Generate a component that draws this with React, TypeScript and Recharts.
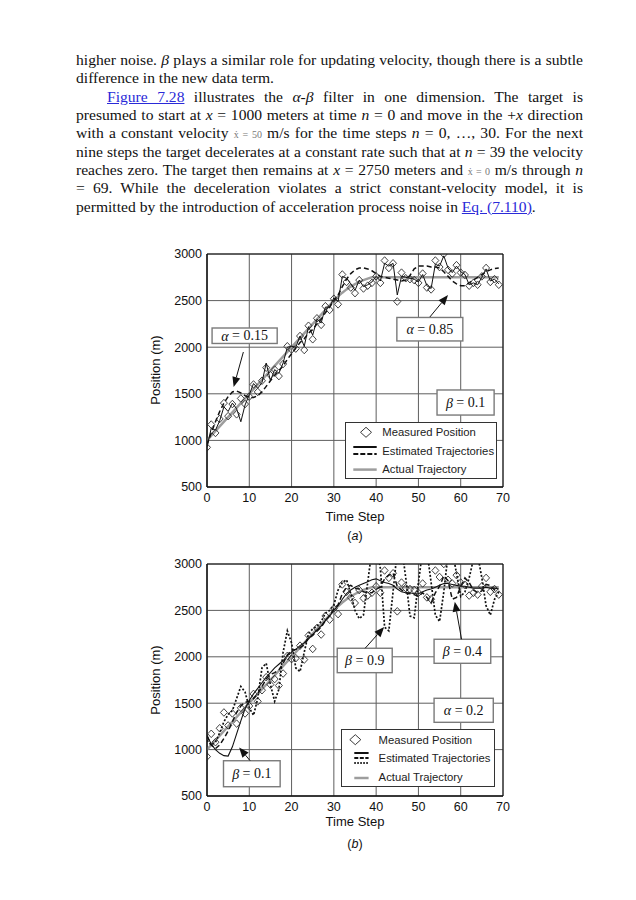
import React from 'react';
import {
  ComposedChart,
  Line,
  Scatter,
  XAxis,
  YAxis,
  CartesianGrid,
  ReferenceArea,
  ReferenceLine,
} from 'recharts';

// measured position, same noisy measurements in both panels (n = 0..69)
const measured = [
  925, 1170, 1080, 1230, 1400, 1260, 1390, 1280, 1450, 1390,
  1470, 1600, 1520, 1640, 1780, 1700, 1760, 1690, 1820, 2010,
  1975, 1985, 2120, 1970, 2230, 2085, 2310, 2240, 2440, 2400,
  2520, 2460, 2780, 2700, 2640, 2580, 2720, 2630, 2660, 2690,
  2760, 2690, 2930, 2850, 2900, 2490, 2800, 2740, 2730, 2720,
  2690, 2790, 2640, 2620, 2930, 2860, 3000, 2830, 2790, 2880,
  2800, 2775, 2660, 2690, 2670, 2760, 2850, 2700, 2730, 2670,
];

// panel (a): beta = 0.1
const alphaLow = [
  950, 1080, 1200, 1310, 1400, 1470, 1520, 1530, 1510, 1480,
  1460, 1460, 1480, 1520, 1580, 1640, 1700, 1750, 1800, 1870,
  1930, 1990, 2050, 2090, 2150, 2190, 2250, 2300, 2370, 2430,
  2500, 2560, 2650, 2730, 2790, 2830, 2850, 2850, 2840, 2820,
  2790, 2760, 2750, 2740, 2730, 2720, 2710, 2720, 2770, 2840,
  2870, 2870, 2870, 2860, 2860, 2850, 2810, 2760, 2710, 2680,
  2660, 2660, 2690, 2720, 2750, 2780, 2810, 2830, 2845, 2850,
];
const alphaHigh = [
  930, 1130, 1110, 1210, 1360, 1310, 1400, 1340, 1200, 1380,
  1490, 1610, 1560, 1620, 1830, 1640, 1760, 1720, 1830, 2000,
  2010, 2000, 2120, 2010, 2220, 2130, 2300, 2260, 2430, 2430,
  2530, 2490, 2760, 2740, 2680, 2610, 2720, 2650, 2670, 2700,
  2760, 2710, 2900, 2870, 2900, 2560, 2760, 2750, 2740, 2730,
  2700, 2780, 2660, 2630, 2890, 2870, 2980, 2850, 2800, 2870,
  2810, 2780, 2670, 2690, 2670, 2750, 2840, 2710, 2730, 2680,
];

// panel (b): alpha = 0.2
const betaLow = [
  1150, 1060, 1000, 960, 935, 930, 1030, 1170, 1310, 1440,
  1530, 1600, 1660, 1720, 1780, 1830, 1880, 1920, 1960, 2010,
  2050, 2080, 2120, 2150, 2200, 2240, 2290, 2330, 2390, 2440,
  2500, 2550, 2620, 2680, 2720, 2750, 2770, 2790, 2810, 2830,
  2840, 2820, 2800, 2790, 2770, 2730, 2700, 2690, 2690, 2680,
  2680, 2700, 2720, 2730, 2750, 2770, 2790, 2790, 2780, 2770,
  2760, 2760, 2750, 2740, 2740, 2740, 2750, 2740, 2740, 2730,
];
const betaMid = [
  1150, 1050, 1010, 1050, 1120, 1200, 1300, 1400, 1470, 1510,
  1520, 1550, 1600, 1680, 1760, 1810, 1830, 1860, 1930, 2020,
  2070, 2080, 2100, 2130, 2200, 2230, 2280, 2320, 2390, 2440,
  2520, 2560, 2680, 2750, 2770, 2740, 2730, 2700, 2690, 2690,
  2730, 2750, 2840, 2880, 2900, 2760, 2720, 2690, 2680, 2670,
  2650, 2690, 2640, 2580, 2690, 2760, 2870, 2820, 2620, 2640,
  2760, 2850, 2800, 2720, 2690, 2710, 2780, 2770, 2720, 2690,
];
const betaHigh = [
  1100, 1050, 1080, 1180, 1300, 1380, 1420, 1550, 1680, 1620,
  1450, 1370, 1550, 1880, 1930, 1700, 1520, 1650, 2050, 2280,
  2150, 1880, 1840, 2050, 2250, 2300, 2330, 2380, 2470, 2500,
  2560, 2720, 2800, 2830, 2680, 2500, 2410, 2450, 2800, 3150,
  3250, 2950, 2320, 2280, 2700, 3150, 3200, 2850, 2440, 2420,
  2800, 3150, 3150, 2800, 2450, 2380, 2700, 3100, 3150, 2900,
  2650, 2700, 2850, 3050, 3100, 2850, 2550, 2450, 2620, 2700,
];

const actualSteps = [0, 30, 31, 32, 33, 34, 35, 36, 37, 38, 39, 69];
const actualPos = [1000, 2500, 2545, 2585, 2620, 2650, 2677, 2700, 2720, 2736, 2750, 2750];

const xTicks = [0, 10, 20, 30, 40, 50, 60, 70];
const yTicks = [500, 1000, 1500, 2000, 2500, 3000];

const rowsA = measured.map((m, n) => ({ n, meas: m, low: alphaLow[n], high: alphaHigh[n] }));
const rowsB = measured.map((m, n) => ({ n, meas: m, b1: betaLow[n], b4: betaMid[n], b9: betaHigh[n] }));
const actualRows = actualSteps.map((n, i) => ({ n, pos: actualPos[i] }));

const notesA = [
  { greek: 'α', value: '0.15', x1: 1.2, x2: 16.6, y1: 2040, y2: 2206 },
  { greek: 'α', value: '0.85', x1: 44.9, x2: 60.5, y1: 2067, y2: 2319 },
  { greek: 'β', value: '0.1', x1: 54.4, x2: 67.9, y1: 1272, y2: 1541 },
];
const arrowsA = [
  { from: [8.6, 1948], to: [6.3, 1573] },
  { from: [52.7, 2324], to: [57.0, 2560] },
];
const notesB = [
  { greek: 'β', value: '0.9', x1: 30.8, x2: 43.8, y1: 1829, y2: 2092 },
  { greek: 'β', value: '0.4', x1: 53.7, x2: 67.1, y1: 1930, y2: 2189 },
  { greek: 'α', value: '0.2', x1: 53.7, x2: 67.7, y1: 1294, y2: 1553 },
  { greek: 'β', value: '0.1', x1: 3.9, x2: 17.3, y1: 600, y2: 880 },
];
const arrowsB = [
  { from: [37.4, 2092], to: [41.9, 2321] },
  { from: [60.2, 2189], to: [58.6, 2594] },
  { from: [10.2, 880], to: [7.6, 1023] },
];

const sans = '"Liberation Sans", Arial, sans-serif';
const serif = '"Liberation Serif", "Times New Roman", serif';
const tickStyle = { fill: '#111', fontSize: 12.5, fontFamily: sans };

const Diamond = (p: any) => (
  <path
    d={`M${p.cx},${p.cy - 3.8} L${p.cx + 3.5},${p.cy} L${p.cx},${p.cy + 3.8} L${p.cx - 3.5},${p.cy} Z`}
    fill="none"
    stroke="#222"
    strokeWidth={0.85}
  />
);

const noteShape = (greek: string, value: string) => (p: any) => (
  <g>
    <rect x={p.x} y={p.y} width={p.width} height={p.height} fill="#fff" stroke="#7a7a7a" strokeWidth={1.4} />
    <text
      x={p.x + p.width / 2}
      y={p.y + p.height / 2}
      textAnchor="middle"
      dominantBaseline="central"
      fontFamily={serif}
      fontSize={14}
      fill="#111"
    >
      <tspan fontStyle="italic">{greek}</tspan>
      {' = ' + value}
    </text>
  </g>
);

const arrowShape = (p: any) => {
  const { x1, y1, x2, y2 } = p;
  const ang = Math.atan2(y2 - y1, x2 - x1);
  const len = 10;
  const half = 4;
  const bx = x2 - len * Math.cos(ang);
  const by = y2 - len * Math.sin(ang);
  const px = -Math.sin(ang) * half;
  const py = Math.cos(ang) * half;
  return (
    <g>
      <line x1={x1} y1={y1} x2={bx} y2={by} stroke="#111" strokeWidth={1} />
      <polygon points={`${x2},${y2} ${bx + px},${by + py} ${bx - px},${by - py}`} fill="#111" />
    </g>
  );
};

type Trace = { key: string; width: number; dash?: string };

function TrajectoryChart({ rows, traces, notes, arrows, bottom }: any) {
  return (
    <ComposedChart width={370} height={300} data={rows} margin={{ top: 14, right: 17, bottom, left: 12 }}>
      <CartesianGrid stroke="#5e5e5e" strokeWidth={1} />
      <XAxis
        type="number"
        dataKey="n"
        domain={[0, 70]}
        ticks={xTicks}
        interval={0}
        allowDataOverflow
        height={30}
        tickLine={false}
        tickSize={0}
        tickMargin={6}
        axisLine={{ stroke: '#111' }}
        tick={tickStyle}
      />
      <YAxis
        type="number"
        domain={[500, 3000]}
        ticks={yTicks}
        interval={0}
        allowDataOverflow
        width={45}
        tickLine={false}
        tickSize={0}
        tickMargin={5}
        axisLine={{ stroke: '#111' }}
        tick={tickStyle}
      />
      <Line
        data={actualRows}
        dataKey="pos"
        stroke="#9d9d9d"
        strokeWidth={2.4}
        dot={false}
        activeDot={false}
        isAnimationActive={false}
      />
      {traces.map((t: Trace) => (
        <Line
          key={t.key}
          dataKey={t.key}
          stroke="#111"
          strokeWidth={t.width}
          strokeDasharray={t.dash}
          dot={false}
          activeDot={false}
          isAnimationActive={false}
        />
      ))}
      <Scatter dataKey="meas" shape={Diamond} isAnimationActive={false} />
      <ReferenceArea x1={0} x2={70} y1={500} y2={3000} fill="none" stroke="#111" strokeWidth={1} />
      {notes.map((nt: any, i: number) => (
        <ReferenceArea key={'n' + i} x1={nt.x1} x2={nt.x2} y1={nt.y1} y2={nt.y2} shape={noteShape(nt.greek, nt.value)} />
      ))}
      {arrows.map((a: any, i: number) => (
        <ReferenceLine
          key={'a' + i}
          segment={[
            { x: a.from[0], y: a.from[1] },
            { x: a.to[0], y: a.to[1] },
          ]}
          shape={arrowShape}
        />
      ))}
    </ComposedChart>
  );
}

function LegendBox({ left, top, width, height, diamondX, textX, rows, samples, sx1, sx2, grayY }: any) {
  return (
    <svg
      style={{ position: 'absolute', left, top }}
      width={width}
      height={height}
    >
      <rect x={0.5} y={0.5} width={width - 1} height={height - 1} fill="#fff" stroke="#333" strokeWidth={1} />
      <path
        d={`M${diamondX},${rows[0] - 5} L${diamondX + 5.5},${rows[0]} L${diamondX},${rows[0] + 5} L${diamondX - 5.5},${rows[0]} Z`}
        fill="none"
        stroke="#222"
        strokeWidth={0.9}
      />
      {samples.map((s: any, i: number) => (
        <line key={i} x1={sx1} x2={sx2} y1={s.y} y2={s.y} stroke="#111" strokeWidth={2} strokeDasharray={s.dash} />
      ))}
      <line x1={sx1} x2={sx2} y1={grayY} y2={grayY} stroke="#9d9d9d" strokeWidth={2.5} />
      {['Measured Position', 'Estimated Trajectories', 'Actual Trajectory'].map((t, i) => (
        <text key={t} x={textX} y={rows[i]} dominantBaseline="central" fontFamily={sans} fontSize={11.3} fill="#222">
          {t}
        </text>
      ))}
    </svg>
  );
}

const dotX = (v: string) => <span style={{ fontSize: 10, color: '#777' }}>{v}</span>;
const link = (t: string) => <span style={{ color: '#2a2ad8', textDecoration: 'underline' }}>{t}</span>;
const it = (t: string) => <i>{t}</i>;

function TextRow({ i, justify = true, indent = 0, children }: any) {
  return (
    <div
      style={{
        position: 'absolute',
        left: 68 + indent,
        top: 43 + i * 18.33,
        width: 507 - indent,
        fontFamily: serif,
        fontSize: 15.6,
        lineHeight: '18.33px',
        color: '#111',
        textAlign: justify ? 'justify' : 'left',
        textAlignLast: justify ? 'justify' : 'left',
      }}
    >
      {children}
    </div>
  );
}

const caption = (text: any, top: number, italicLetter = false) => (
  <div
    style={{
      position: 'absolute',
      left: 267,
      top,
      width: 160,
      textAlign: 'center',
      fontFamily: sans,
      fontSize: italicLetter ? 12.5 : 13,
      lineHeight: '16px',
      color: '#111',
    }}
  >
    {text}
  </div>
);

const yTitle = (top: number) => (
  <div
    style={{
      position: 'absolute',
      left: 88,
      top,
      width: 120,
      textAlign: 'center',
      fontFamily: sans,
      fontSize: 13,
      lineHeight: '16px',
      color: '#111',
      transform: 'rotate(-90deg)',
    }}
  >
    Position (m)
  </div>
);

export default function App() {
  return (
    <div style={{ position: 'relative', width: 620, height: 884 }}>
      <TextRow i={0}>
        higher noise. {it('β')} plays a similar role for updating velocity, though there is a subtle
      </TextRow>
      <TextRow i={1} justify={false}>
        difference in the new data term.
      </TextRow>
      <TextRow i={2} indent={31}>
        {link('Figure 7.28')} illustrates the {it('α')}-{it('β')} filter in one dimension. The target is
      </TextRow>
      <TextRow i={3}>
        presumed to start at {it('x')} = 1000 meters at time {it('n')} = 0 and move in the +{it('x')} direction
      </TextRow>
      <TextRow i={4}>
        with a constant velocity {dotX('ẋ = 50')} m/s for the time steps {it('n')} = 0, …, 30. For the next
      </TextRow>
      <TextRow i={5}>
        nine steps the target decelerates at a constant rate such that at {it('n')} = 39 the velocity
      </TextRow>
      <TextRow i={6}>
        reaches zero. The target then remains at {it('x')} = 2750 meters and {dotX('ẋ = 0')} m/s through {it('n')}
      </TextRow>
      <TextRow i={7}>
        = 69. While the deceleration violates a strict constant-velocity model, it is
      </TextRow>
      <TextRow i={8} justify={false}>
        permitted by the introduction of acceleration process noise in {link('Eq. (7.110)')}.
      </TextRow>

      <div style={{ position: 'absolute', left: 142, top: 232 }}>
        <TrajectoryChart
          rows={rowsA}
          bottom={23}
          traces={[
            { key: 'low', width: 1.5, dash: '5 3' },
            { key: 'high', width: 1 },
          ]}
          notes={notesA}
          arrows={arrowsA}
        />
      </div>
      <LegendBox
        left={337}
        top={413.7}
        width={152}
        height={57}
        diamondX={21}
        textX={37.3}
        rows={[10.3, 29, 47.3]}
        sx1={8.3}
        sx2={31.7}
        samples={[{ y: 25 }, { y: 32, dash: '5 2' }]}
        grayY={47.6}
      />
      {yTitle(354)}
      {caption('Time Step', 500.5)}
      {caption(<span>(<i>a</i>)</span>, 519.5, true)}

      <div style={{ position: 'absolute', left: 142, top: 542 }}>
        <TrajectoryChart
          rows={rowsB}
          bottom={24}
          traces={[
            { key: 'b9', width: 1.7, dash: '2 1.8' },
            { key: 'b4', width: 1.5, dash: '5 3' },
            { key: 'b1', width: 1.1 },
          ]}
          notes={notesB}
          arrows={arrowsB}
        />
      </div>
      <LegendBox
        left={332.7}
        top={721.3}
        width={154}
        height={58}
        diamondX={14.3}
        textX={37.6}
        rows={[10.7, 29.4, 47.7]}
        sx1={13.3}
        sx2={27.6}
        samples={[{ y: 24 }, { y: 29, dash: '4 1.5' }, { y: 34, dash: '1.5 1.5' }]}
        grayY={49}
      />
      {yTitle(664)}
      {caption('Time Step', 805.5)}
      {caption(<span>(<i>b</i>)</span>, 827.5, true)}
    </div>
  );
}
